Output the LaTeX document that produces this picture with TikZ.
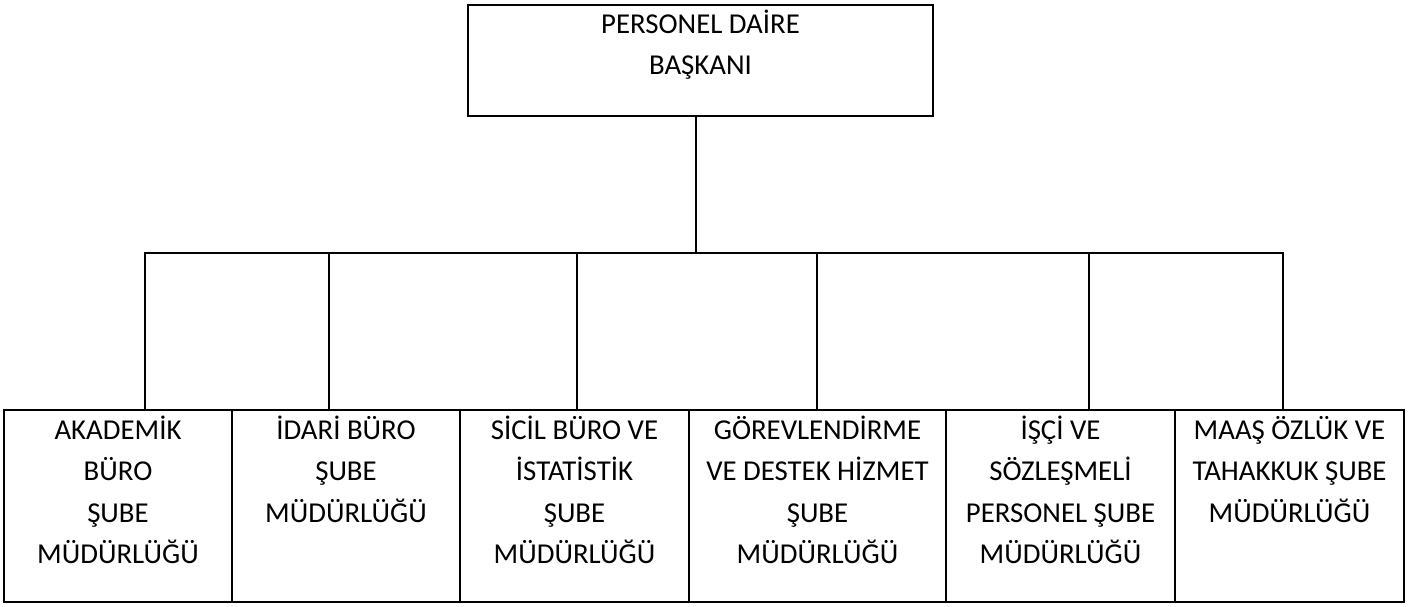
\documentclass[tikz,border=0pt]{standalone}
\usepackage{fontspec}
\setmainfont{Carlito}
\begin{document}
\begin{tikzpicture}[x=1pt,y=-1pt,
  box/.style={draw, line width=2pt, minimum width=#1, inner sep=0pt, outer sep=0pt, anchor=north west},
  lowbox/.style={box=#1, minimum height=192},
  lab/.style={align=center, anchor=base, inner sep=0pt, font=\fontsize{28.8}{41.6}\selectfont},
  conn/.style={line width=2pt, line cap=rect}]
\useasboundingbox (0,0) rectangle (1422,606);
% top box
\node[box=465, minimum height=111] (top) at (468,5) {};
\node[lab] (t0) at (700.5,74.6) {PERSONEL DAİRE\\BAŞKANI};
% bottom boxes
\node[lowbox=228] (b1) at (4,410) {};
\node[lowbox=228] (b2) at (232,410) {};
\node[lowbox=229] (b3) at (460,410) {};
\node[lowbox=257] (b4) at (689,410) {};
\node[lowbox=229] (b5) at (946,410) {};
\node[lowbox=229] (b6) at (1175,410) {};
\node[lab] (t1) at (b1.north |- 0,563.8) {AKADEMİK\\BÜRO\\ŞUBE\\MÜDÜRLÜĞÜ};
\node[lab] (t2) at (b2.north |- 0,522.2) {İDARİ BÜRO\\ŞUBE\\MÜDÜRLÜĞÜ};
\node[lab] (t3) at (b3.north |- 0,563.8) {SİCİL BÜRO VE\\İSTATİSTİK\\ŞUBE\\MÜDÜRLÜĞÜ};
\node[lab] (t4) at (b4.north |- 0,563.8) {GÖREVLENDİRME\\VE DESTEK HİZMET\\ŞUBE\\MÜDÜRLÜĞÜ};
\node[lab] (t5) at (b5.north |- 0,563.8) {İŞÇİ VE\\SÖZLEŞMELİ\\PERSONEL ŞUBE\\MÜDÜRLÜĞÜ};
\node[lab] (t6) at (b6.north |- 0,522.2) {MAAŞ ÖZLÜK VE\\TAHAKKUK ŞUBE\\MÜDÜRLÜĞÜ};
% connectors
\coordinate (j) at (696,253);
\coordinate (c1) at (145,253);
\coordinate (c2) at (329,253);
\coordinate (c3) at (577,253);
\coordinate (c4) at (817,253);
\coordinate (c5) at (1089,253);
\coordinate (c6) at (1283,253);
\draw[conn] (j |- top.south) -- (j);
\draw[conn] (c1) -- (c6);
\draw[conn] (c1) -- (c1 |- b1.north);
\draw[conn] (c2) -- (c2 |- b2.north);
\draw[conn] (c3) -- (c3 |- b3.north);
\draw[conn] (c4) -- (c4 |- b4.north);
\draw[conn] (c5) -- (c5 |- b5.north);
\draw[conn] (c6) -- (c6 |- b6.north);
\end{tikzpicture}
\end{document}
